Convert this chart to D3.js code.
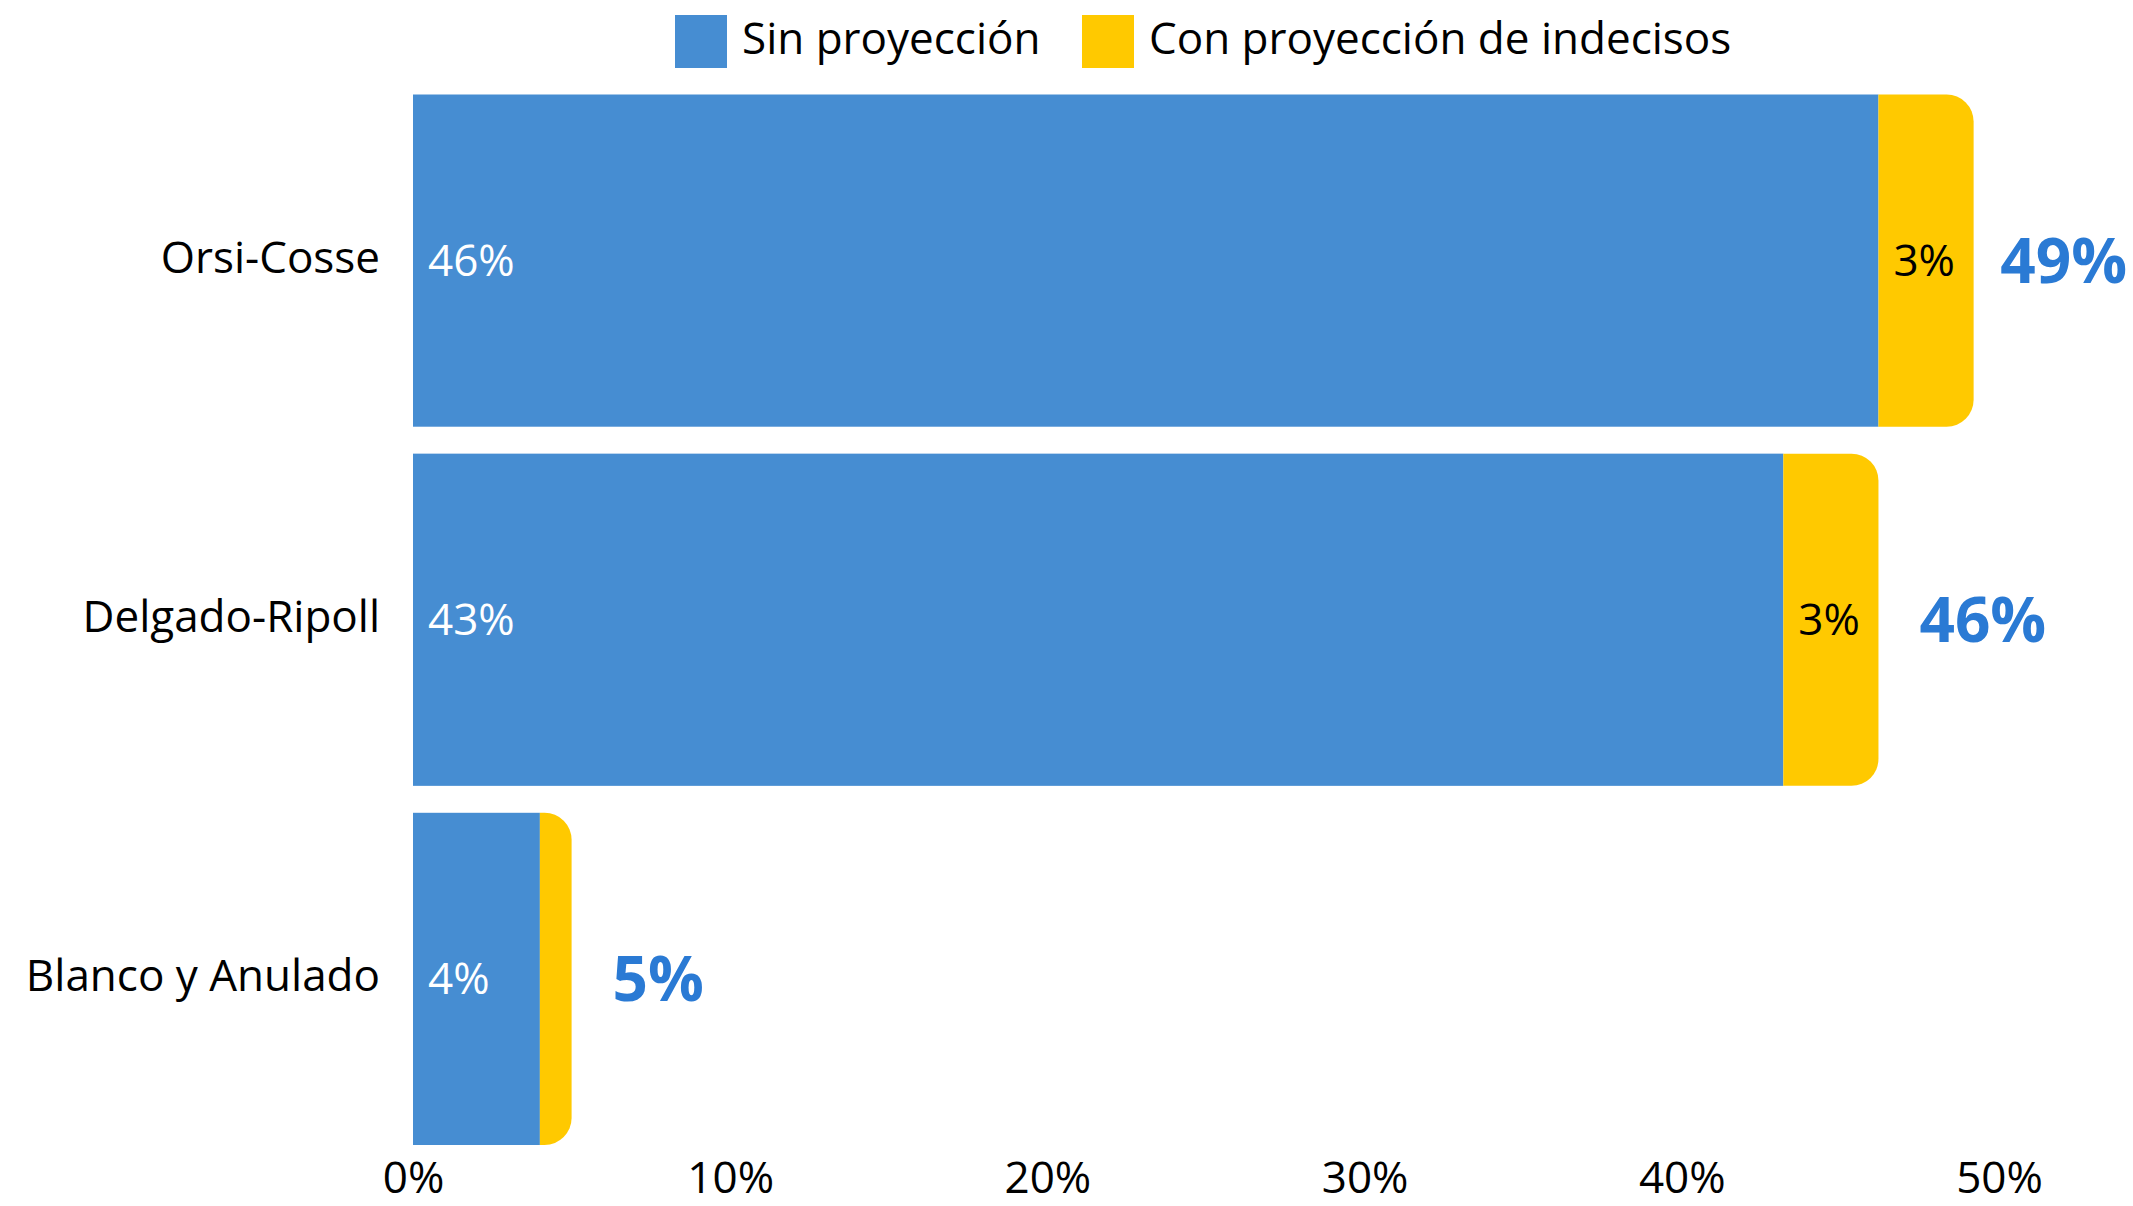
<!DOCTYPE html>
<html>
<head>
<meta charset="utf-8">
<script src="https://cdn.jsdelivr.net/npm/d3@7"></script>
<style>
  html, body { margin: 0; padding: 0; background: #fff; }
  svg text { font-family: "Open Sans", "Noto Sans", sans-serif; }
</style>
</head>
<body>
<svg id="drawing_region"></svg>
<script>
// datos
const categories = ['Orsi-Cosse', 'Delgado-Ripoll', 'Blanco y Anulado'];
const sinProyeccion = [46.2, 43.2, 4.0];
const conProyeccion = [3.0, 3.0, 1.0];
const segmentLabels = [['46%', '3%'], ['43%', '3%'], ['4%', '']];
const totalLabels = ['49%', '46%', '5%'];
const seriesNames = ['Sin proyección', 'Con proyección de indecisos'];
const tickValues = [0, 10, 20, 30, 40, 50];

const W = 2133, H = 1206;
const colors = ['#468dd2', '#ffc900'];
const totalColor = '#2a7ad4';

const svg = d3.select('#drawing_region')
    .attr('width', W)
    .attr('height', H);

const x = d3.scaleLinear()
    .domain([0, 50])
    .range([413, 1999]);

const y = d3.scaleBand()
    .domain(categories)
    .range([94.5, 1145])
    .paddingInner(0.075)
    .paddingOuter(0);

const bh = y.bandwidth();
const r = 27;

// filas
const rows = categories.map((c, i) => ({
    cat: c,
    a: sinProyeccion[i],
    b: conProyeccion[i],
    la: segmentLabels[i][0],
    lb: segmentLabels[i][1],
    total: totalLabels[i]
}));

const g = svg.append('g');

// tramo azul
g.selectAll('rect.sin')
    .data(rows)
    .enter().append('rect')
    .attr('class', 'sin')
    .attr('x', x(0))
    .attr('y', d => y(d.cat))
    .attr('width', d => x(d.a) - x(0))
    .attr('height', bh)
    .attr('fill', colors[0]);

// tramo amarillo con esquinas redondeadas a la derecha
function roundedRight(x0, x1, y0, h, rad) {
    const rr = Math.min(rad, x1 - x0, h / 2);
    const p = d3.path();
    p.moveTo(x0, y0);
    p.lineTo(x1 - rr, y0);
    p.arcTo(x1, y0, x1, y0 + rr, rr);
    p.lineTo(x1, y0 + h - rr);
    p.arcTo(x1, y0 + h, x1 - rr, y0 + h, rr);
    p.lineTo(x0, y0 + h);
    p.closePath();
    return p.toString();
}

g.selectAll('path.con')
    .data(rows)
    .enter().append('path')
    .attr('class', 'con')
    .attr('d', d => roundedRight(x(d.a), x(d.a + d.b), y(d.cat), bh, r))
    .attr('fill', colors[1]);

const mid = d => y(d.cat) + bh / 2;

// etiquetas dentro de las barras
g.selectAll('text.la')
    .data(rows)
    .enter().append('text')
    .attr('class', 'la')
    .attr('x', x(0) + 15)
    .attr('y', d => mid(d) + 15.5)
    .attr('fill', '#fff')
    .style('font-size', '44px')
    .text(d => d.la);

g.selectAll('text.lb')
    .data(rows.filter(d => d.lb))
    .enter().append('text')
    .attr('class', 'lb')
    .attr('x', d => x(d.a) + 15)
    .attr('y', d => mid(d) + 15.5)
    .attr('fill', '#000')
    .style('font-size', '44px')
    .text(d => d.lb);

// totales
g.selectAll('text.total')
    .data(rows)
    .enter().append('text')
    .attr('class', 'total')
    .attr('y', d => mid(d) + 22)
    .attr('fill', totalColor)
    .style('font-size', '62px')
    .style('font-weight', 'bold')
    .text(d => d.total)
    .attr('x', function(d) {
        const w = this.getComputedTextLength();
        return Math.min(x(d.a + d.b) + 41, W - 6 - w);
    });

// categorias
g.selectAll('text.cat')
    .data(rows)
    .enter().append('text')
    .attr('class', 'cat')
    .attr('x', 380)
    .attr('y', d => mid(d) + 12)
    .attr('text-anchor', 'end')
    .attr('fill', '#000')
    .style('font-size', '44px')
    .text(d => d.cat);

// eje x
const xAxis = d3.axisBottom(x)
    .tickValues(tickValues)
    .tickFormat(d => d + '%')
    .tickSize(0)
    .tickPadding(0);

const ax = svg.append('g')
    .attr('transform', `translate(0, 1193)`)
    .call(xAxis);
ax.select('.domain').remove();
ax.selectAll('text')
    .attr('dy', 0)
    .attr('y', 0)
    .attr('fill', '#000')
    .style('font-size', '44px')
    .style('font-family', '"Open Sans", "Noto Sans", sans-serif');

// leyenda
const legendX = [675, 1082];
const leg = svg.append('g');
const items = leg.selectAll('g')
    .data(seriesNames)
    .enter().append('g')
    .attr('transform', (d, i) => `translate(${legendX[i]}, 15)`);
items.append('rect')
    .attr('width', 52)
    .attr('height', 53)
    .attr('fill', (d, i) => colors[i]);
items.append('text')
    .attr('x', 67)
    .attr('y', 39)
    .attr('fill', '#000')
    .style('font-size', '44px')
    .text(d => d);
</script>
</body>
</html>
